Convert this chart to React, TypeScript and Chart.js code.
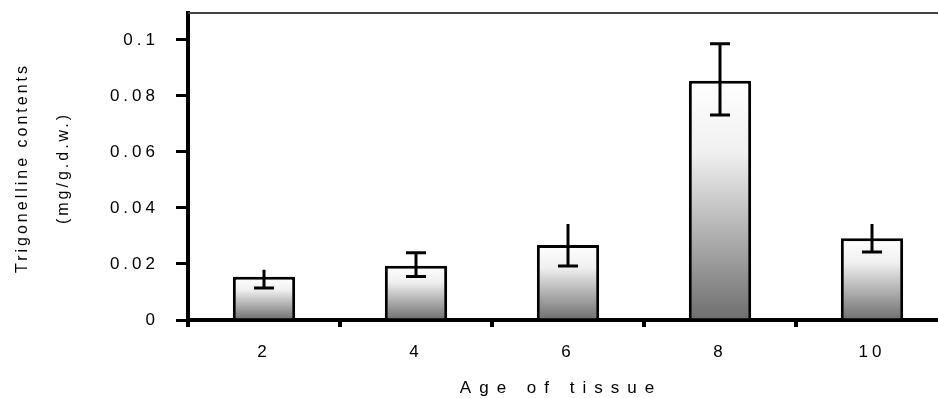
import React, { useEffect, useRef } from 'react';
import { Chart, registerables } from 'chart.js';
Chart.register(...registerables);

const categories = ['2', '4', '6', '8', '10'];
const values = [0.0154, 0.0194, 0.0268, 0.0854, 0.0292];
const errUpper = [0.0025, 0.0046, 0.0075, 0.0132, 0.0051];
const errLower = [0.0040, 0.0039, 0.0075, 0.0122, 0.0049];
const capTop = [false, true, false, true, false];
const capBottom = [true, true, true, true, true];
const yTickValues = [0, 0.02, 0.04, 0.06, 0.08, 0.1];
const yTickLabels = ['0', '0.02', '0.04', '0.06', '0.08', '0.1'];
const yMax = 0.1096;
const yTitle = ['Trigonelline contents', '(mg/g.d.w.)'];
const xTitle = 'Age of tissue';

const FONT = '"Liberation Sans", Arial, sans-serif';

export default function App() {
  const ref = useRef<HTMLCanvasElement | null>(null);
  useEffect(() => {
    if (!ref.current) return;
    const decor = {
      id: 'decor',
      beforeDraw(chart: any) {
        (chart.ctx as any).letterSpacing = '4px';
      },
      afterDatasetsDraw(chart: any) {
        const meta = chart.getDatasetMeta(0);
        const y = chart.scales.y;
        const ctx = chart.ctx;
        ctx.save();
        ctx.strokeStyle = '#000';
        ctx.lineWidth = 3;
        meta.data.forEach((el: any, i: number) => {
          const x = el.x;
          const yt = y.getPixelForValue(values[i] + errUpper[i]);
          const yb = y.getPixelForValue(values[i] - errLower[i]);
          ctx.beginPath();
          ctx.moveTo(x, yt);
          ctx.lineTo(x, yb);
          if (capTop[i]) { ctx.moveTo(x - 10, yt); ctx.lineTo(x + 10, yt); }
          if (capBottom[i]) { ctx.moveTo(x - 10, yb); ctx.lineTo(x + 10, yb); }
          ctx.stroke();
        });
        ctx.restore();
      },
      afterDraw(chart: any) {
        const ctx = chart.ctx;
        const a = chart.chartArea;
        ctx.save();
        // top frame line
        ctx.strokeStyle = '#444';
        ctx.lineWidth = 2;
        ctx.beginPath();
        ctx.moveTo(a.left, a.top);
        ctx.lineTo(a.right, a.top);
        ctx.stroke();
        // y title
        ctx.fillStyle = '#000';
        ctx.font = '16px ' + FONT;
        (ctx as any).letterSpacing = '3px';
        ctx.textAlign = 'center';
        ctx.textBaseline = 'middle';
        const cy = 168;
        ctx.save();
        ctx.translate(23, cy);
        ctx.rotate(-Math.PI / 2);
        ctx.fillText(yTitle[0], 0, 0);
        ctx.restore();
        ctx.save();
        ctx.translate(64, cy);
        ctx.rotate(-Math.PI / 2);
        ctx.fillText(yTitle[1], 0, 0);
        ctx.restore();
        // x title
        (ctx as any).letterSpacing = '8px';
        ctx.font = '17px ' + FONT;
        ctx.fillText(xTitle, 561, 388);
        ctx.restore();
      },
    };
    const chart = new Chart(ref.current, {
      type: 'bar',
      data: {
        labels: categories,
        datasets: [
          {
            data: values,
            borderColor: '#000',
            borderWidth: 3,
            barPercentage: 0.41,
            categoryPercentage: 1,
            backgroundColor: (c: any) => {
              const ch = c.chart;
              if (!ch.chartArea || c.type !== 'data') return '#bbb';
              const ys = ch.scales.y;
              const top = ys.getPixelForValue(values[c.dataIndex]);
              const bottom = ys.getPixelForValue(0);
              const g = ch.ctx.createLinearGradient(0, top, 0, bottom);
              g.addColorStop(0, '#ffffff');
              g.addColorStop(0.3, '#f0f0f0');
              g.addColorStop(1, '#6e6e6e');
              return g;
            },
          },
        ],
      },
      options: {
        responsive: false,
        animation: false,
        layout: { padding: { top: 13, right: 12, left: 0, bottom: 0 } },
        plugins: { legend: { display: false }, tooltip: { enabled: false } },
        scales: {
          x: {
            offset: true,
            afterFit: (s: any) => { s.height = 78; s.paddingLeft = 0; s.paddingRight = 0; },
            border: { display: true, color: '#000', width: 4 },
            grid: { offset: true, drawOnChartArea: false, drawTicks: true, tickLength: 7, lineWidth: 4, color: '#000' },
            ticks: { color: '#000', font: { family: FONT, size: 17 }, padding: 15, maxRotation: 0 },
          },
          y: {
            min: 0,
            max: yMax,
            afterFit: (s: any) => { s.width = 188; s.paddingTop = 0; s.paddingBottom = 0; },
            afterBuildTicks: (s: any) => { s.ticks = yTickValues.map((v) => ({ value: v })); },
            border: { display: true, color: '#000', width: 4 },
            grid: { drawOnChartArea: false, drawTicks: true, tickLength: 12, lineWidth: 3, color: '#000' },
            ticks: {
              color: '#000',
              font: { family: FONT, size: 17 },
              padding: 17,
              callback: (_v: any, i: number) => yTickLabels[i],
            },
          },
        },
      },
      plugins: [decor],
    });
    return () => chart.destroy();
  }, []);
  return (
    <div style={{ position: 'absolute', left: 0, top: 0, width: 938, height: 398, overflow: 'hidden', background: '#fff' }}>
      <canvas ref={ref} width={960} height={398} style={{ display: 'block', width: 960, height: 398 }} />
    </div>
  );
}
